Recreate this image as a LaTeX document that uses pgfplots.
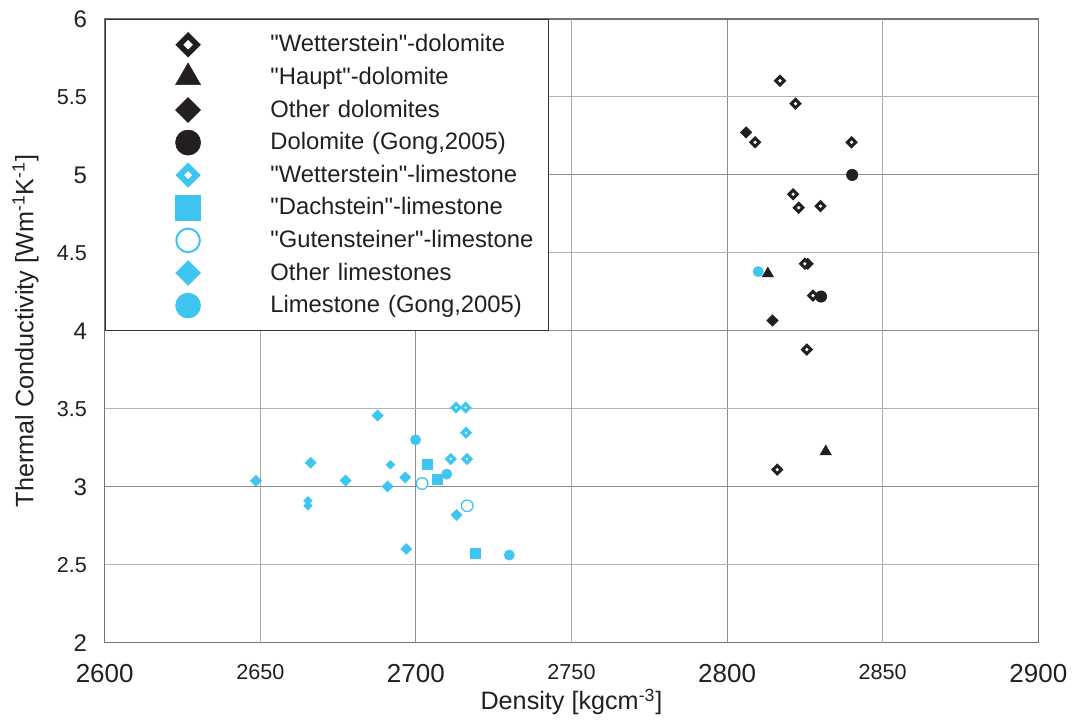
\documentclass[border=0pt]{standalone}
\usepackage{fontspec}
\setmainfont{Liberation Sans}
\usepackage{pgfplots}
\pgfplotsset{compat=1.18}

\definecolor{dk}{RGB}{35,31,32}
\definecolor{lb}{RGB}{62,197,240}

% enlarged legend symbols, marker centred in a fixed-size cell
\pgfplotsset{
  legmark/.style 2 args={legend image code/.code={%
      \draw[##1, every mark/.append style={scale=#1, line width=#2}] plot coordinates {(0pt,0pt)};
      \path[draw=none, fill=none] (-37.35pt,-8.15pt) rectangle (41.15pt,8.15pt);}},
}
\newcommand{\q}{\textquotedbl}

\begin{document}
\begin{tikzpicture}
\begin{axis}[
  name=ax,
  scale only axis,
  width=466.8pt, height=311.85pt,
  xmin=2600, xmax=2900, ymin=2, ymax=6,
  xtick={2600,2700,2800,2900},
  xticklabels={2600,2700,2800,2900},
  extra x ticks={2650,2750,2850},
  extra x tick labels={2650,2750,2850},
  ytick={2,3,4,5,6},
  yticklabels={2,3,4,5,6},
  extra y ticks={2.5,3.5,4.5,5.5},
  extra y tick labels={2.5,3.5,4.5,5.5},
  grid=major,
  major grid style={draw=black!45, line width=0.5pt},
  extra x tick style={grid=major, major grid style={draw=black!33, line width=0.5pt},
    xticklabel style={font=\fontsize{10.8}{12}\selectfont}},
  extra y tick style={grid=major, major grid style={draw=black!30, line width=0.5pt},
    yticklabel style={font=\fontsize{10.8}{12}\selectfont}},
  major tick length=0pt,
  tick style={draw=none},
  axis line style={draw=black!55, line width=0.75pt},
  xticklabel style={anchor=north, inner sep=0pt, yshift=-10.65pt, font=\fontsize{13}{15}\selectfont, text=dk},
  yticklabel style={anchor=east, inner sep=0pt, xshift=-8.7pt, font=\fontsize{12}{14}\selectfont, text=dk},
  xlabel={Density [kgcm\textsuperscript{-3}]},
  ylabel={Thermal Conductivity [Wm\textsuperscript{-1}K\textsuperscript{-1}]},
  every axis x label/.style={at={(axis description cs:0.5,0)}, anchor=base, yshift=-33.6pt,
    font=\fontsize{12.6}{15}\selectfont, text=dk},
  every axis y label/.style={at={(axis description cs:-0.0765,0.5)}, rotate=90, anchor=base,
    font=\fontsize{12.6}{15}\selectfont, text=dk},
  legend style={at={(0,1)}, anchor=north west, draw=black!80, line width=0.7pt, fill=white,
    inner xsep=4pt, inner ysep=4.4pt, row sep=0pt, column sep=0pt,
    nodes={inner sep=0pt, text width=135pt, font=\fontsize{11.9}{14}\selectfont, text=dk}},
  legend cell align=left,
]

% points lying underneath overlapping symbols
\addplot[forget plot, only marks, mark=*, mark size=2.55pt,
  mark options={draw=lb, fill=lb, line width=0.3pt}]
  coordinates {(2810.0,4.38)};
\addplot[forget plot, only marks, mark=square*, mark size=2.0pt,
  mark options={rotate=45, draw=dk, fill=dk, line width=0.3pt}]
  coordinates {(2825.9,4.43)};
\addplot[forget plot, only marks, mark=square*, mark size=1.5pt,
  mark options={rotate=45, draw=lb, fill=lb, line width=0.3pt}]
  coordinates {(2691.8,3.141) (2665.3,2.910) (2665.3,2.878)};

% "Wetterstein"-dolomite
\addplot[only marks, mark=square*, mark size=1.47pt,
  mark options={rotate=45, draw=dk, fill=white, line width=1.5pt},
  legmark={2.14}{2.76pt}]
  coordinates {(2817.0,5.604) (2822.0,5.457) (2809.0,5.209) (2840.0,5.209)
    (2821.2,4.876) (2823.0,4.790) (2830.0,4.800) (2825.0,4.430)
    (2827.6,4.226) (2825.6,3.880) (2816.1,3.110)};
\addlegendentry{\q Wetterstein\q-dolomite}

% "Haupt"-dolomite
\addplot[only marks, mark=triangle*, mark size=3.3pt,
  mark options={draw=dk, fill=dk, line width=0.2pt},
  legmark={2.2}{0.2pt}]
  coordinates {(2813.1,4.367) (2831.7,3.226)};
\addlegendentry{\q Haupt\q-dolomite}

% other dolomites
\addplot[only marks, mark=square*, mark size=2.0pt,
  mark options={rotate=45, draw=dk, fill=dk, line width=0.3pt},
  legmark={2.2}{0.3pt}]
  coordinates {(2806.1,5.273) (2814.6,4.066)};
\addlegendentry{Other dolomites}

% dolomite, Gong (2005)
\addplot[only marks, mark=*, mark size=2.85pt,
  mark options={draw=dk, fill=dk, line width=0.3pt},
  legmark={2.2}{0.3pt}]
  coordinates {(2840.2,5.000) (2830.2,4.220)};
\addlegendentry{Dolomite (Gong,2005)}

% "Wetterstein"-limestone
\addplot[only marks, mark=square*, mark size=1.35pt,
  mark options={rotate=45, draw=lb, fill=white, line width=1.6pt},
  legmark={2.2}{3.0pt}]
  coordinates {(2712.9,3.508) (2716.0,3.508) (2716.1,3.346)
    (2711.2,3.178) (2716.4,3.178)};
\addlegendentry{\q Wetterstein\q-limestone}

% "Dachstein"-limestone
\addplot[only marks, mark=square*, mark size=2.5pt,
  mark options={draw=lb, fill=lb, line width=0.3pt},
  legmark={2.5}{0.3pt}]
  coordinates {(2703.7,3.141) (2706.9,3.049) (2719.1,2.573)};
\addlegendentry{\q Dachstein\q-limestone}

% "Gutensteiner"-limestone
\addplot[only marks, mark=*, mark size=2.9pt,
  mark options={draw=lb, fill=white, line width=0.65pt},
  legmark={2.03}{1pt}]
  coordinates {(2702.0,3.021) (2716.5,2.878)};
\addlegendentry{\q Gutensteiner\q-limestone}

% other limestones
\addplot[only marks, mark=square*, mark size=1.95pt,
  mark options={rotate=45, draw=lb, fill=lb, line width=0.3pt},
  legmark={2.25}{0.3pt}]
  coordinates {(2648.6,3.038) (2666.2,3.154) (2677.4,3.040) (2687.7,3.457)
    (2690.9,3.002) (2696.6,3.060) (2713.1,2.819) (2696.9,2.601)};
\addlegendentry{Other limestones}

% limestone, Gong (2005)
\addplot[only marks, mark=*, mark size=2.55pt,
  mark options={draw=lb, fill=lb, line width=0.3pt},
  legmark={2.45}{0.3pt}]
  coordinates {(2699.9,3.301) (2709.9,3.081) (2730.0,2.562)};
\addlegendentry{Limestone (Gong,2005)}

\end{axis}
\pgfresetboundingbox
\path ([shift={(-52.35pt,-38.65pt)}]ax.south west) rectangle ([shift={(17.35pt,9.5pt)}]ax.north east);
\end{tikzpicture}
\end{document}
